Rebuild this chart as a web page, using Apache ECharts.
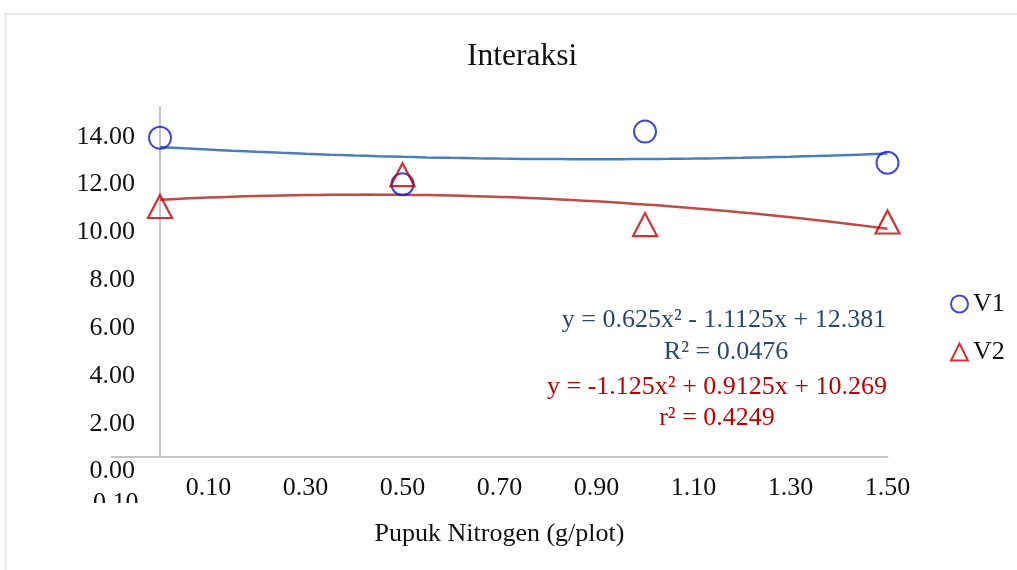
<!DOCTYPE html>
<html>
<head>
<meta charset="utf-8">
<script src="https://cdn.jsdelivr.net/npm/echarts@6/dist/echarts.min.js"></script>
<style>
html,body{margin:0;padding:0;background:#fff;}
#chart{width:1017px;height:570px;}
</style>
</head>
<body>
<div id="chart"></div>
<script>
// ---- data ----
const xValues = [0, 0.5, 1.0, 1.5];
const v1Values = [13.35, 11.41, 13.61, 12.31];
const v2Values = [10.48, 11.81, 9.72, 9.83];
const seriesNames = ['V1', 'V2'];
const titleText = 'Interaksi';
const xAxisTitle = 'Pupuk Nitrogen (g/plot)';
const eqV1 = ['y = 0.625x² - 1.1125x + 12.381', 'R² = 0.0476'];
const eqV2 = ['y = -1.125x² + 0.9125x + 10.269', 'r² = 0.4249'];

const FONT = '"Liberation Serif", "Times New Roman", serif';

// least-squares quadratic fit (Excel polynomial trendline, order 2)
function quadFit(xs, ys) {
  let s = [0,0,0,0,0], t = [0,0,0];
  for (let i = 0; i < xs.length; i++) {
    let p = 1;
    for (let k = 0; k <= 4; k++) { s[k] += p; if (k <= 2) t[k] += p * ys[i]; p *= xs[i]; }
  }
  const A = [[s[0],s[1],s[2],t[0]],[s[1],s[2],s[3],t[1]],[s[2],s[3],s[4],t[2]]];
  for (let c = 0; c < 3; c++) {
    for (let r = c + 1; r < 3; r++) {
      const f = A[r][c] / A[c][c];
      for (let k = c; k < 4; k++) A[r][k] -= f * A[c][k];
    }
  }
  const b = [0,0,0];
  for (let r = 2; r >= 0; r--) {
    let v = A[r][3];
    for (let k = r + 1; k < 3; k++) v -= A[r][k] * b[k];
    b[r] = v / A[r][r];
  }
  return b; // c0, c1, c2
}
function trend(xs, ys) {
  const c = quadFit(xs, ys);
  const lo = Math.min(...xs), hi = Math.max(...xs), n = 60, out = [];
  for (let i = 0; i <= n; i++) {
    const x = lo + (hi - lo) * i / n;
    out.push([x, c[0] + c[1] * x + c[2] * x * x]);
  }
  return out;
}
const pairs = (xs, ys) => xs.map((x, i) => [x, ys[i]]);

const chart = echarts.init(document.getElementById('chart'));
chart.setOption({
  animation: false,
  backgroundColor: '#ffffff',
  title: {
    text: titleText, left: 462, top: 36,
    textStyle: { fontFamily: FONT, fontSize: 31.5, fontWeight: 'normal', color: '#111' }
  },
  legend: {
    orient: 'vertical', left: 945, top: 286, itemGap: 22,
    itemWidth: 17, itemHeight: 17,
    textStyle: { fontFamily: FONT, fontSize: 26, color: '#111', lineHeight: 26 },
    data: [
      { name: seriesNames[0], icon: 'circle', itemStyle: { color: 'transparent', borderColor: '#1515d0', borderWidth: 2 } },
      { name: seriesNames[1], icon: 'triangle', itemStyle: { color: 'transparent', borderColor: '#c00000', borderWidth: 2 } }
    ]
  },
  grid: { left: 111.5, right: 129.5, top: 107, bottom: 113, containLabel: false },
  xAxis: {
    type: 'value', min: -0.1, max: 1.5, interval: 0.2,
    name: xAxisTitle, nameLocation: 'middle', nameGap: 62,
    nameTextStyle: { fontFamily: FONT, fontSize: 26, color: '#111' },
    axisLine: { show: true, onZero: true, lineStyle: { color: '#c4c4c4', width: 2 } },
    axisTick: { show: false },
    splitLine: { show: false },
    axisLabel: {
      margin: 18, fontFamily: FONT, fontSize: 26, lineHeight: 26, color: '#111',
      showMinLabel: true, showMaxLabel: true,
      formatter: function (v) {
        const s = v.toFixed(2);
        return v < 0 ? '{low|' + s + '}' : s;
      },
      rich: { low: { fontFamily: FONT, fontSize: 26, lineHeight: 26, color: '#111', padding: [30, 0, 0, 0] } }
    }
  },
  yAxis: {
    type: 'value', min: 0, max: 14.64, interval: 2,
    axisLine: { show: true, onZero: true, lineStyle: { color: '#c4c4c4', width: 2 } },
    axisTick: { show: false },
    splitLine: { show: false },
    axisLabel: {
      margin: -23.5, fontFamily: FONT, fontSize: 26, lineHeight: 26, color: '#111',
      showMinLabel: true, verticalAlign: 'top',
      formatter: function (v) {
        return Math.abs(v / 2 - Math.round(v / 2)) < 1e-6 ? '{d|' + v.toFixed(2) + '}' : '';
      },
      rich: { d: { fontFamily: FONT, fontSize: 26, lineHeight: 26, color: '#111', verticalAlign: 'top', padding: [1.5, 0, 0, 0] } }
    }
  },
  series: [
    {
      name: 'V1 trend', type: 'line', data: trend(xValues, v1Values),
      showSymbol: false, symbol: 'none', silent: true,
      lineStyle: { color: '#4a7ebb', width: 2.5 }, z: 2
    },
    {
      name: 'V2 trend', type: 'line', data: trend(xValues, v2Values),
      showSymbol: false, symbol: 'none', silent: true,
      lineStyle: { color: '#be4b48', width: 2.5 }, z: 2
    },
    {
      name: seriesNames[0], type: 'scatter', data: pairs(xValues, v1Values),
      symbol: 'circle', symbolSize: 22,
      itemStyle: { color: 'transparent', borderColor: '#1515d0', borderWidth: 2 }, z: 3
    },
    {
      name: seriesNames[1], type: 'scatter', data: pairs(xValues, v2Values),
      symbol: 'triangle', symbolSize: [24, 23],
      itemStyle: { color: 'transparent', borderColor: '#c00000', borderWidth: 2.2 }, z: 4
    }
  ],
  graphic: [
    { type: 'rect', z: 100, shape: { x: 80, y: 503, width: 75, height: 25 }, style: { fill: '#ffffff' } },
    { type: 'rect', z: 101, shape: { x: 5.5, y: 14, width: 1040, height: 600 }, style: { fill: 'none', stroke: '#e8e8e8', lineWidth: 2 } },
    { type: 'text', z: 100, x: 724, y: 320, style: { text: eqV1[0], fill: '#2b4a6b', font: '26px ' + FONT, align: 'center', verticalAlign: 'middle' } },
    { type: 'text', z: 100, x: 726, y: 352, style: { text: eqV1[1], fill: '#2b4a6b', font: '26px ' + FONT, align: 'center', verticalAlign: 'middle' } },
    { type: 'text', z: 100, x: 717, y: 387, style: { text: eqV2[0], fill: '#c00000', font: '26px ' + FONT, align: 'center', verticalAlign: 'middle' } },
    { type: 'text', z: 100, x: 717, y: 418, style: { text: eqV2[1], fill: '#c00000', font: '26px ' + FONT, align: 'center', verticalAlign: 'middle' } }
  ]
});
</script>
</body>
</html>
